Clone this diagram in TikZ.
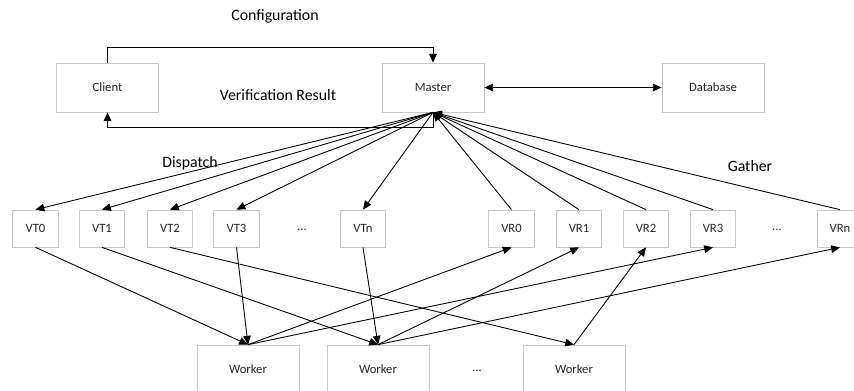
\documentclass[tikz,border=0pt]{standalone}
\usepackage{fontspec}
\setmainfont{Carlito}
\usepackage{tikz}
\tikzstyle{block}=[draw=black!22, line width=0.6pt, minimum width=1.36cm, minimum height=1.11cm, inner sep=0pt, font=\fontsize{10.8}{12}\selectfont, text=black!85]
\tikzstyle{big}=[block, minimum width=3.06cm, minimum height=1.47cm]
\tikzstyle{arrow}=[line width=0.75pt,->,>={Triangle[length=7.5pt,width=6.5pt]}]
\tikzstyle{label}=[font=\fontsize{13.5}{15}\selectfont]
\usetikzlibrary{arrows.meta,positioning,calc}

\begin{document}
\begin{tikzpicture}[x=0.03cm,y=-0.03cm]
\clip (0,0) rectangle (854,391);
% top row
\node (client) [big] at (107.5,87.5) {Client};
\node (master) [big] at (433,87.5) {Master};
\node (db) [big] at (713,87.5) {Database};
\node (conf) [label] at (275,16) {Configuration};
\node (res) [label] at (278,95) {Verification Result};
\node (disp) [label] at (190,163) {Dispatch};
\node (gath) [label] at (750,166) {Gather};
% task queues
\node (vt0) [block] at (35.5,228.5) {VT0};
\node (vt1) [block] at (102,228.5) {VT1};
\node (vt2) [block] at (170,228.5) {VT2};
\node (vt3) [block] at (236.5,228.5) {VT3};
\node (vtd) [block,draw=none] at (302,230) {...};
\node (vtn) [block] at (363,228.5) {VTn};
% result queues
\node (vr0) [block] at (511.5,228.5) {VR0};
\node (vr1) [block] at (579,228.5) {VR1};
\node (vr2) [block] at (646,228.5) {VR2};
\node (vr3) [block] at (713,228.5) {VR3};
\node (vrd) [block,draw=none] at (777,230) {...};
\node (vrn) [block] at (840,228.5) {VRn};
% workers
\node (w1) [big] at (248,369.5) {Worker};
\node (w2) [big] at (378,369.5) {Worker};
\node (wd) [big,draw=none] at (477,371) {...};
\node (w3) [big] at (574,369.5) {Worker};

\draw[arrow] (client.north) -- ++(0,-15) -| (master.north);
\draw[arrow] (master.south) -- ++(0,15) -| (client.south);
\draw[arrow,<->] (master) -- (db);

\draw[arrow] (master.south) -- (vt0.north);
\draw[arrow] (master.south) -- (vt1.north);
\draw[arrow] (master.south) -- (vt2.north);
\draw[arrow] (master.south) -- (vt3.north);
\draw[arrow] (master.south) -- (vtn.north);

\draw[arrow] (vr0.north) -- (master.south);
\draw[arrow] (vr1.north) -- (master.south);
\draw[arrow] (vr2.north) -- (master.south);
\draw[arrow] (vr3.north) -- (master.south);
\draw[arrow] (vrn.north) -- (master.south);

\draw[arrow] (vt0.south) -- (w1.north);
\draw[arrow] (vt3.south) -- (w1.north);
\draw[arrow] (vt1.south) -- (w2.north);
\draw[arrow] (vtn.south) -- (w2.north);
\draw[arrow] (vt2.south) -- (w3.north);

\draw[arrow] (w1.north) -- (vr0.south);
\draw[arrow] (w1.north) -- (vr3.south);
\draw[arrow] (w2.north) -- (vr1.south);
\draw[arrow] (w2.north) -- (vrn.south);
\draw[arrow] (w3.north) -- (vr2.south);
\end{tikzpicture}
\end{document}
